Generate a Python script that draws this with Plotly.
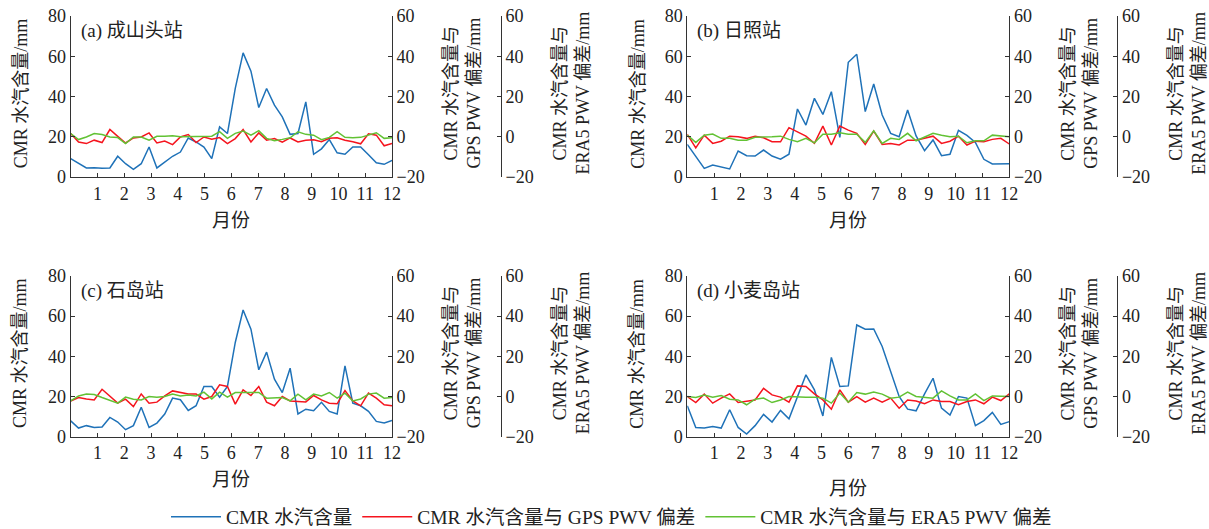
import numpy as np
import plotly.graph_objects as go

W, H = 1209, 529
FONT = "Liberation Serif, 'Noto Sans CJK SC', serif"
TXT = "#222222"
AX = "#333333"

# ---------------- data ----------------
month_ticks = list(range(1, 13))
t_left = np.linspace(0, 12, 42)    # sampling grid, panels (a) and (c)
t_right = np.linspace(0, 12, 39)   # sampling grid, panels (b) and (d)

station_labels = ["(a) 成山头站", "(b) 日照站", "(c) 石岛站", "(d) 小麦岛站"]
series_names = ["CMR 水汽含量", "CMR 水汽含量与 GPS PWV 偏差", "CMR 水汽含量与 ERA5 PWV 偏差"]

cmr_a = [9.1, 7.0, 4.5, 4.6, 4.3, 4.5, 10.3, 6.6, 3.8, 6.6, 14.9, 4.5, 7.5, 10.3, 12.4, 19.4,
         17.4, 14.9, 9.1, 24.9, 21.6, 44.0, 61.7, 52.6, 34.5, 44.0, 35.7, 29.9, 21.2, 21.6, 37.3,
         11.3, 14.0, 18.6, 12.0, 11.3, 14.9, 14.9, 11.1, 7.1, 6.3, 8.3]
gps_a = [1.6, -2.6, -3.4, -1.7, -2.9, 3.6, 0.2, -3.1, -0.6, -0.1, 1.9, -3.1, -2.1, -3.9, -0.1,
         1.1, -2.9, -0.1, -1.2, -0.4, -3.4, -0.9, 3.6, -2.6, 1.9, -1.7, -0.9, -2.7, -0.6, -2.6,
         -1.7, -1.5, -2.5, -0.8, -0.5, -1.7, -2.5, -3.5, 1.5, 0.8, -4.5, -3.3]
era_a = [1.6, -1.4, -0.1, 1.6, 1.1, -0.1, -0.4, -3.4, -0.1, -0.1, -1.7, 0.2, 0.2, 0.5, 0.0,
         0.0, 0.0, 0.0, 0.3, 2.5, -0.8, 1.7, 2.8, 0.8, 3.0, -0.8, -2.0, -1.3, -0.5, 2.5, 1.2,
         0.8, -1.5, -0.3, 2.5, -0.3, -0.5, -0.3, 0.8, 2.0, -0.8, -0.5]

cmr_b = [16.2, 10.0, 4.3, 6.0, 5.1, 4.0, 12.9, 10.6, 10.4, 13.4, 10.4, 8.9, 11.3, 33.8, 25.8,
         39.1, 31.1, 42.4, 19.7, 57.0, 61.0, 32.5, 46.2, 30.8, 21.7, 20.0, 33.3, 20.4, 13.1,
         18.4, 10.6, 11.3, 23.2, 20.7, 17.2, 8.8, 6.5, 6.6, 6.6]
gps_b = [1.2, -5.5, 0.8, -3.3, -2.2, 0.3, 0.0, -0.8, 0.3, -0.5, -2.5, -2.5, 4.5, 2.2, 0.3,
         -3.3, 5.3, -4.1, 5.3, 3.3, 1.7, -3.8, 2.8, -3.8, -3.3, -4.1, -1.7, -1.7, -0.8, 0.3,
         -3.3, -2.2, 0.3, -4.1, -2.2, -2.5, -1.3, -0.8, -3.6]
era_b = [0.8, -2.8, 0.8, 1.3, -0.8, -0.8, -1.7, -1.7, -0.3, -0.3, 0.0, 0.3, -1.3, -2.5, -0.8,
         -3.0, 1.2, 1.3, 2.0, 1.3, 1.3, -2.8, 3.0, -3.3, -0.8, -1.3, 1.7, -2.0, 0.0, 1.7,
         0.8, 0.0, 0.3, -3.0, -2.0, -2.0, 0.8, 0.3, 0.0]

cmr_c = [7.9, 4.3, 5.5, 4.6, 4.8, 9.6, 7.3, 3.5, 5.5, 14.7, 4.6, 6.8, 11.3, 19.2, 18.4, 13.1,
         15.4, 25.0, 25.0, 19.7, 25.0, 46.9, 63.1, 53.5, 33.3, 42.1, 28.6, 22.0, 34.1, 11.3,
         13.7, 12.9, 17.1, 12.6, 11.3, 35.3, 16.7, 15.4, 12.6, 7.6, 6.8, 8.1]
gps_c = [-2.2, -0.5, -1.2, -1.7, 3.6, 0.3, -3.3, -1.3, -5.0, 1.3, -3.3, -2.8, 0.3, 2.8, 2.2,
         1.3, 1.2, -1.3, 0.0, 5.8, 5.0, -3.8, 3.3, 0.5, 5.0, -2.8, -4.6, 0.0, -2.2, -2.5, -2.7,
         0.5, -1.7, -3.3, -3.6, 3.0, -2.2, -4.6, 1.7, -0.8, -4.1, -4.6]
era_c = [-2.2, 0.3, 1.3, 1.0, -0.5, -2.0, -3.3, -0.3, -1.3, -1.7, 0.0, -0.3, 0.0, 1.2, 0.3,
         0.8, 0.3, 2.2, -1.2, 2.2, -0.3, 2.0, 2.0, 2.0, 2.0, -0.8, -0.8, -0.5, -2.2, 1.2, -1.7,
         1.2, 0.3, 2.0, -0.8, 1.7, -2.2, -1.2, 1.2, 1.7, -0.8, -0.5]

cmr_d = [15.4, 4.6, 4.3, 5.1, 4.3, 13.4, 4.6, 1.3, 5.5, 11.1, 7.3, 13.1, 8.9, 20.0, 30.8, 23.3,
         10.3, 39.5, 25.0, 25.3, 55.6, 53.5, 53.6, 44.9, 32.4, 20.0, 13.7, 12.9, 21.3, 29.1,
         14.2, 10.8, 20.0, 19.2, 5.5, 8.0, 12.1, 6.1, 7.5]
gps_d = [0.0, -3.0, 1.2, -3.3, -0.8, 1.3, -3.0, -2.5, -1.7, 4.1, 0.8, -0.3, -2.8, 5.3, 5.0,
         1.3, -1.7, -6.3, 3.3, -2.8, 0.0, -2.8, -0.8, -2.8, -0.8, -5.8, -1.7, -2.2, -3.6, -1.7,
         -2.5, -2.5, -4.1, -2.5, -1.7, -3.6, -0.3, -2.0, 1.3]
era_d = [0.0, -0.5, 0.8, -0.3, 0.5, -1.3, -1.7, -4.1, -1.3, -0.8, -3.0, -1.7, 0.0, -0.3, -0.3,
         -0.3, -0.8, -3.3, 1.7, -2.8, 2.0, 1.2, 2.2, 1.2, -0.8, -0.3, 2.2, 0.0, -0.3, -0.8, 2.8,
         0.3, -1.7, -1.7, 1.3, -2.0, 0.3, 0.0, 0.0]

panels = [
    (t_left, cmr_a, gps_a, era_a),
    (t_right, cmr_b, gps_b, era_b),
    (t_left, cmr_c, gps_c, era_c),
    (t_right, cmr_d, gps_d, era_d),
]
colors = ["#1f72b8", "#f5141e", "#62c234"]

# ---------------- layout geometry (pixels) ----------------
col_px = [(70.7, 392.0), (687.3, 1009.3)]
row_px = [(16.0, 177.0), (276.0, 436.7)]
era_px = [501.0, 1117.3]
month_title_offset = [43, 43, 43, 52]


def px(xp):
    return xp / W


def py(yp):
    return 1 - yp / H


fig = go.Figure()
layout = dict(
    width=W, height=H, margin=dict(l=0, r=0, t=0, b=0, autoexpand=False),
    paper_bgcolor="white", plot_bgcolor="white",
    font=dict(family=FONT, size=18, color=TXT),
    showlegend=True,
    legend=dict(orientation="h", x=px(611.5), xanchor="center", y=py(517), yanchor="middle",
                font=dict(size=19.5, family=FONT, color=TXT), itemwidth=50,
                bgcolor="rgba(0,0,0,0)", tracegroupgap=0),
)
annotations = []

common_axis = dict(showgrid=False, zeroline=False, showline=True, linecolor=AX, linewidth=1,
                   ticks="inside", ticklen=4, tickcolor=AX, tickwidth=1,
                   tickfont=dict(size=18, family=FONT, color=TXT))

for i, (t, cmr, gps, era) in enumerate(panels):
    r, c = divmod(i, 2)
    xa = f"x{i + 1}"
    yl, yg, ye = 3 * i + 1, 3 * i + 2, 3 * i + 3
    x0, x1 = col_px[c]
    ytop, ybot = row_px[r]

    layout[f"xaxis{i + 1}"] = dict(domain=[px(x0), px(x1)], anchor=f"y{yl}", range=[0, 12],
                                   tickmode="array", tickvals=month_ticks, **common_axis)
    layout[f"yaxis{yl}"] = dict(domain=[py(ybot), py(ytop)], anchor=xa, range=[0, 80],
                                dtick=20, tick0=0, **common_axis)
    layout[f"yaxis{yg}"] = dict(overlaying=f"y{yl}", side="right", anchor=xa, range=[-20, 60],
                                dtick=20, tick0=0, **common_axis)
    layout[f"yaxis{ye}"] = dict(overlaying=f"y{yl}", side="right", anchor="free",
                                position=px(era_px[c]), range=[-20, 60], dtick=20, tick0=0,
                                **common_axis)

    fig.add_trace(go.Scatter(x=t, y=cmr, mode="lines", line=dict(color=colors[0], width=1.5),
                             name=series_names[0], showlegend=(i == 0), xaxis=xa, yaxis=f"y{yl}"))
    fig.add_trace(go.Scatter(x=t, y=gps, mode="lines", line=dict(color=colors[1], width=1.5),
                             name=series_names[1], showlegend=(i == 0), xaxis=xa, yaxis=f"y{yg}"))
    fig.add_trace(go.Scatter(x=t, y=era, mode="lines", line=dict(color=colors[2], width=1.5),
                             name=series_names[2], showlegend=(i == 0), xaxis=xa, yaxis=f"y{ye}"))

    ymid = (ytop + ybot) / 2 - 3
    # panel label
    annotations.append(dict(text=station_labels[i], x=px(x0 + 8), y=py(ytop + 15), xref="paper",
                            yref="paper", xanchor="left", yanchor="middle", showarrow=False,
                            font=dict(size=19, family=FONT, color=TXT)))
    # left axis title
    annotations.append(dict(text="CMR 水汽含量/mm", x=px(x0 - 50), y=py(ymid), xref="paper",
                            yref="paper", xanchor="center", yanchor="middle", textangle=-90,
                            showarrow=False, font=dict(size=18, family=FONT, color=TXT)))
    # GPS axis title
    annotations.append(dict(text="CMR 水汽含量与<br>GPS PWV 偏差/mm", x=px(x1 + 70), y=py(ymid),
                            xref="paper", yref="paper", xanchor="center", yanchor="middle",
                            textangle=-90, showarrow=False,
                            font=dict(size=18, family=FONT, color=TXT)))
    # ERA5 axis title
    annotations.append(dict(text="CMR 水汽含量与<br>ERA5 PWV 偏差/mm", x=px(era_px[c] + 70),
                            y=py(ymid), xref="paper", yref="paper", xanchor="center",
                            yanchor="middle", textangle=-90, showarrow=False,
                            font=dict(size=18, family=FONT, color=TXT)))
    # month title
    annotations.append(dict(text="月份", x=px((x0 + x1) / 2), y=py(ybot + month_title_offset[i]),
                            xref="paper", yref="paper", xanchor="center", yanchor="middle",
                            showarrow=False, font=dict(size=19, family=FONT, color=TXT)))

layout["annotations"] = annotations
fig.update_layout(**layout)
fig.write_html("out.html")
